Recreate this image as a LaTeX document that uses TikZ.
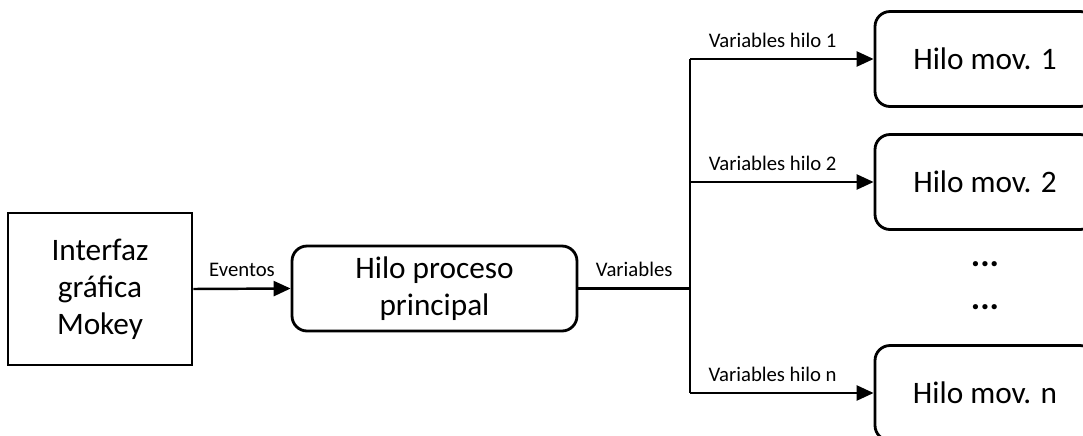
\documentclass[tikz,border=0pt]{standalone}
\usepackage{fontspec}
\setmainfont{Carlito}
\usepackage{tikz}
\usetikzlibrary{positioning,calc,arrows.meta}

\tikzset{
    bloque/.style={draw, line width=1.6pt, align=center, font=\fontsize{17.8}{21}\selectfont},
    hilo/.style={bloque, rounded corners=0.3cm},
    linea/.style={line width=1.4pt},
    flecha/.style={linea, -{Triangle[length=0.34cm,width=0.3cm]}},
    etiqueta/.style={font=\fontsize{11.8}{13}\selectfont, inner sep=1pt},
    puntos/.style={font=\fontsize{20}{21}\selectfont\bfseries, anchor=base}
}

\begin{document}
\begin{tikzpicture}[x=0.02cm, y=-0.02cm]
    \clip (0,0) rectangle (1083,436);

    % Interfaz y proceso principal
    \node[bloque, minimum width=3.68cm, minimum height=3.04cm] (gui) at (100,289) {Interfaz\\gr\'afica\\Mokey};
    \node[hilo, minimum width=5.7cm, minimum height=1.7cm] (main) at (434.5,288.5) {Hilo proceso\\principal};
    \draw[flecha] (gui.east) -- node[etiqueta, above=5pt] {Eventos} (main.west);

    % Hilos de movimiento
    \node[hilo, minimum width=4.4cm, minimum height=1.9cm] (mov1) at (985,59) {Hilo mov. 1};
    \node[hilo, minimum width=4.4cm, minimum height=1.9cm] (mov2) at (985,182) {Hilo mov. 2};
    \node[hilo, minimum width=4.4cm, minimum height=1.9cm] (movn) at (985,393) {Hilo mov. n};
    \node[puntos] (dotsa) at (985,266) {...};
    \node[puntos] (dotsb) at (985,309) {...};

    % Reparto de variables
    \coordinate (split) at (690,288.5);
    \draw[linea] (main.east) -- node[etiqueta, above=5pt] {Variables} (split);
    \draw[linea] (split) -- (split |- mov1.west);
    \draw[linea] (split) -- (split |- movn.west);
    \draw[flecha] (split |- mov1.west) -- node[etiqueta, above=5pt, pos=0.45] {Variables hilo 1} (mov1.west);
    \draw[flecha] (split |- mov2.west) -- node[etiqueta, above=5pt, pos=0.45] {Variables hilo 2} (mov2.west);
    \draw[flecha] (split |- movn.west) -- node[etiqueta, above=5pt, pos=0.45] {Variables hilo n} (movn.west);
\end{tikzpicture}
\end{document}
